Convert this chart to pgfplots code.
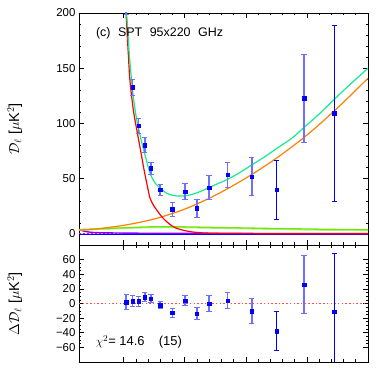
\documentclass[border=0pt]{standalone}
\usepackage{fontspec}
\setmainfont{Liberation Sans}
\usepackage{pgfplots}
\pgfplotsset{compat=1.18}
\usepackage{pgfplotstable}
\definecolor{cteal}{RGB}{20,235,140}
\definecolor{corange}{RGB}{255,128,0}
\definecolor{cred}{RGB}{255,0,0}
\definecolor{cchart}{RGB}{120,230,0}
\definecolor{cpale}{RGB}{170,240,150}
\definecolor{cpurple}{RGB}{140,0,255}
\definecolor{cmag}{RGB}{255,0,200}
\definecolor{clight}{RGB}{110,110,255}
\definecolor{cres}{RGB}{255,80,80}

\pgfplotstableread{
l d e
2082 209 10.4
2295 132.7 7.2
2494 98 6.8
2697 80.5 6.5
2894 59.5 5.5
3195 39.8 4.6
3597 22.3 6.4
4010 38.3 7.0
4402 23.2 8.2
4798 41.9 10.7
5407 53.4 11
6199 51.9 17
7908 122.8 40
}\toplight
\pgfplotstableread{
l d e
7017 39.8 26.4
8900 109.2 80
}\topdark
\pgfplotstableread{
l d e
2082 1.8 10.4
2295 3.2 7.2
2494 3.2 6.8
2697 8.6 6.2
2894 6.8 5.6
3195 -2.3 4.5
3597 -12.7 6.4
4010 4.1 7.2
4402 -14 8.2
4798 0 10.7
5407 4.1 11
6199 -10.5 17
7908 26 40
}\reslight
\pgfplotstableread{
l d e
7017 -37.7 26.4
8900 -11.4 80
}\resdark

\begin{document}
\begin{tikzpicture}
\useasboundingbox (-79bp,-9bp) rectangle (297bp,362bp);
\pgfplotsset{
  common/.style={
    scale only axis, width=289bp,
    xmin=540, xmax=10000,
    xtick={2000,4000,6000,8000,10000}, minor x tick num=4,
    xticklabels={}, scaled ticks=false,
    tick align=inside,
    major tick length=5bp, minor tick length=2.5bp,
    axis line style={line width=0.8bp},
    every tick/.style={black, line width=0.6bp},
    tick label style={font=\fontsize{11.5}{13}\selectfont},
    ylabel style={at={(axis description cs:-0.222,0.5)}, anchor=center, font=\fontsize{14.5}{16}\selectfont},
    clip=true,
  },
  ebl/.style={only marks, mark=square*, mark size=1.7bp, color=blue, mark options={blue},
    error bars/.cd, y dir=both, y explicit,
    error bar style={color=clight, line width=1.3bp},
    error mark options={rotate=90, mark size=2.6bp, line width=1bp, color=clight}},
  ebd/.style={only marks, mark=square*, mark size=1.7bp, color=blue, mark options={blue},
    error bars/.cd, y dir=both, y explicit,
    error bar style={color=blue, line width=0.8bp},
    error mark options={rotate=90, mark size=2.6bp, line width=0.8bp, color=blue}},
}
% bottom panel
\begin{axis}[common, at={(0,0)}, anchor=south west, height=117bp,
  ymin=-80, ymax=80,
  ytick={-60,-40,-20,0,20,40,60}, minor y tick num=3,
  yticklabels={−60,−40,−20,0,20,40,60},
  ylabel={$\Delta\mathcal{D}_\ell$ [$\mu$K$^2$]},
]
\addplot[color=cres, line width=1.5bp, dash pattern=on 1.5bp off 2.2bp] coordinates {(540,0) (10000,0)};
\addplot[ebl] table[x=l,y=d,y error=e] {\reslight};
\addplot[ebd] table[x=l,y=d,y error=e] {\resdark};
\node[anchor=west, font=\fontsize{13}{15}\selectfont] at (rel axis cs:0.046,0.17) {$\chi^2$= 14.6\hspace{1.1em}(15)};
\end{axis}
% top panel
\begin{axis}[common, at={(0,117bp)}, anchor=south west, height=232bp,
  ymin=-10, ymax=200,
  ytick={0,50,100,150,200}, minor y tick num=4,
  yticklabels={0,50,100,150,200},
  ylabel={$\mathcal{D}_\ell$ [$\mu$K$^2$]},
]
\addplot[color=blue, line width=0.8bp] coordinates {(540,0) (10000,0)};
\addplot[color=cmag, line width=0.8bp, dash pattern=on 2bp off 2bp] coordinates {(540,0.2) (10000,0.2)};
\addplot[color=cpurple, line width=1.4bp, smooth] coordinates {
 (540,4.2) (700,2.6) (900,1.6) (1200,1.1) (2000,0.8) (3000,0.6) (5000,0.5) (8000,0.4) (10000,0.4)};
\addplot[color=cpale, line width=1.6bp, smooth] coordinates {
 (540,3.6) (1500,4.6) (2500,5.6) (3500,6.0) (4500,5.6) (6000,4.8) (7000,4.3) (8000,3.8) (9000,3.4) (10000,3.1)};
\addplot[color=cchart, line width=1.3bp, smooth] coordinates {
 (540,4.0) (1500,5.0) (2500,6.1) (3200,6.6) (4000,6.4) (5000,5.9) (6000,5.4) (7000,4.9) (8000,4.5) (9000,4.1) (10000,3.8)};
\addplot[color=corange, line width=1.2bp, smooth] coordinates {
 (540,3.4) (1000,4.2) (2000,7.8) (3000,13.5) (4000,22.5) (5000,35) (6000,50.5) (7000,68.5) (8000,89.5) (9000,114) (10000,141)};
\addplot[color=cred, line width=1.2bp, smooth] coordinates {
 (2040,228) (2080,200) (2150,165) (2210,138) (2320,112) (2440,93) (2560,75) (2670,58) (2780,43) (2870,32) (3000,25) (3100,21) (3300,14) (3500,9) (3700,5.5) (4000,3) (4200,2) (4500,1.1) (5000,0.6) (6000,0.3) (8000,0.2) (10000,0.1)};
\addplot[color=cteal, line width=1.2bp, smooth] coordinates {
 (2060,222) (2082,207) (2110,195) (2150,178) (2200,158) (2295,129.5) (2400,108) (2494,95) (2600,82) (2697,72) (2800,61) (2894,53) (3000,47.5) (3100,44) (3195,41.5) (3400,37) (3600,35) (3800,34.3) (4010,34.5) (4200,35.5) (4402,37.2) (4600,39.5) (4798,42) (5000,44.5) (5407,49.5) (5800,55.5) (6199,62.5) (6600,69.5) (7017,77.5) (7500,86.5) (7908,96.5) (8400,108.5) (8900,122) (9400,135) (10000,150)};
\addplot[ebl] table[x=l,y=d,y error=e] {\toplight};
\addplot[ebd] table[x=l,y=d,y error=e] {\topdark};
\node[anchor=west, font=\fontsize{12.5}{14}\selectfont] at (rel axis cs:0.047,0.914) {(c)\hspace{0.6em}SPT\hspace{0.6em}95x220\hspace{0.6em}GHz};
\end{axis}
\end{tikzpicture}
\end{document}
